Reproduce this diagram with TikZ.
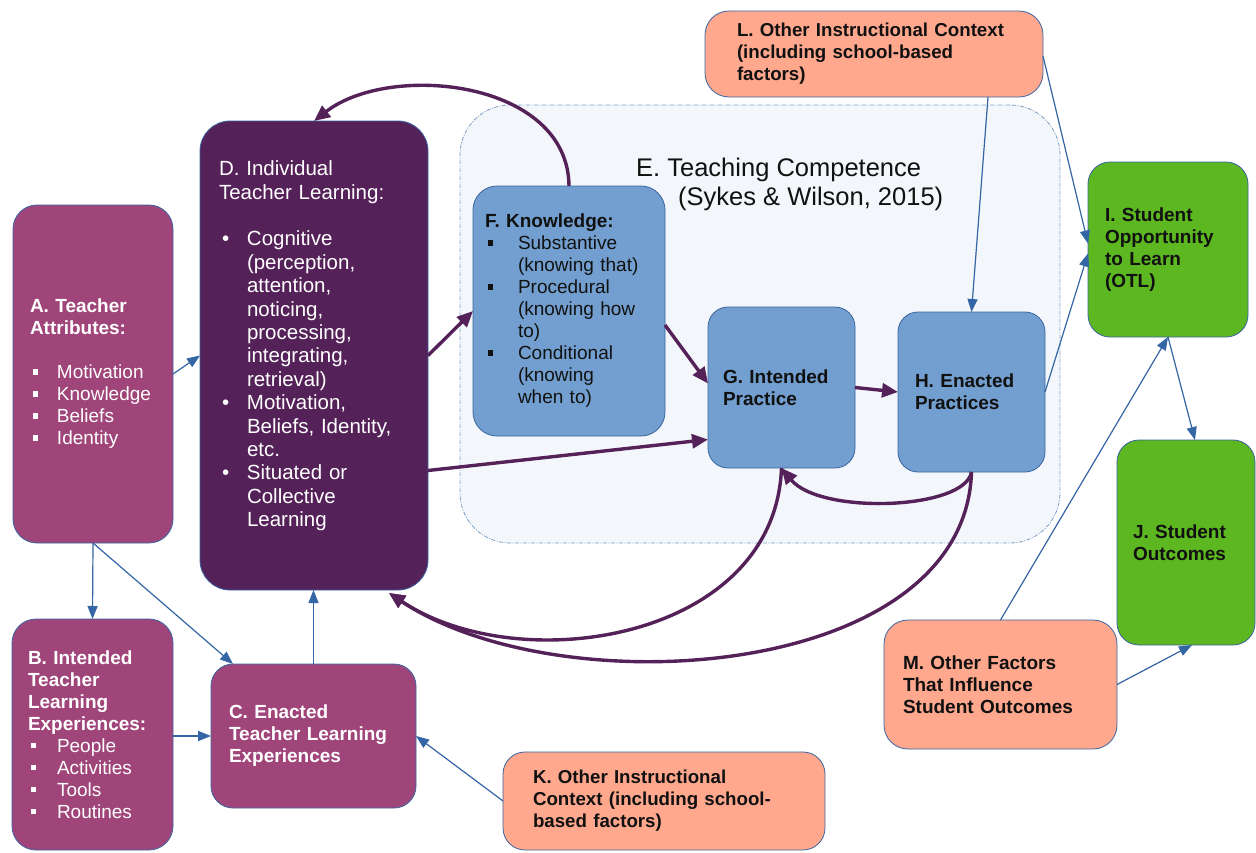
\documentclass[tikz,border=0pt]{standalone}
\usepackage{fontspec}
\setmainfont{Liberation Sans}
\usetikzlibrary{arrows.meta}
\hyphenpenalty=10000
\exhyphenpenalty=10000

\definecolor{apurple}{RGB}{160,69,122}
\definecolor{dpurple}{RGB}{85,33,89}
\definecolor{fblue}{RGB}{114,159,207}
\definecolor{efill}{RGB}{243,247,251}
\definecolor{eline}{RGB}{126,156,198}
\definecolor{sgreen}{RGB}{93,183,33}
\definecolor{salmon}{RGB}{255,168,142}
\definecolor{ablue}{RGB}{52,101,164}
\definecolor{boxline}{RGB}{58,100,160}
\definecolor{txtdark}{RGB}{17,17,17}

% list helpers: square bullet, round bullet, hanging indent
\newcommand{\sqbul}[1]{\makebox[#1][l]{\hspace{3pt}\raisebox{0.22em}{\rule{0.28em}{0.28em}}}}
\newcommand{\rdbul}[1]{\makebox[#1][l]{\hspace{3pt}\textbullet}}
\newcommand{\indsp}[1]{\makebox[#1]{}}

\tikzset{
  pbox/.style={draw=boxline, line width=0.8pt, anchor=north west,
    inner ysep=0pt, outer sep=0pt, align=left},
  normtxt/.style={font=\fontsize{19}{22}\selectfont},
  boldtxt/.style={font=\fontsize{19}{22}\selectfont\bfseries},
  ctxtxt/.style={font=\fontsize{18.7}{22}\selectfont\bfseries},
  barrow/.style={draw=ablue, line width=1.2pt, -{Triangle[length=13pt,width=10pt]}},
  parrow/.style={draw=dpurple, line width=3.4pt, -{Triangle[length=16pt,width=14pt]}},
}

\begin{document}
\begin{tikzpicture}[x=1pt, y=-1pt]
\fill[white] (0,0) rectangle (1256,852);
\useasboundingbox (0,0) rectangle (1256,852);

% E: teaching competence container
\node[draw=eline, fill=efill, line width=0.8pt,
  dash pattern=on 4pt off 1.5pt on 1pt off 1.5pt,
  rounded corners=50pt, anchor=north west, inner sep=0pt, outer sep=0pt,
  minimum width=600pt, minimum height=438pt] (E) at (460,105) {};
\node[anchor=base west, inner sep=0pt, text=txtdark,
  font=\fontsize{25.5}{29}\selectfont] (Etitle) at (636,176) {E. Teaching Competence};
\node[anchor=base west, inner sep=0pt, text=txtdark,
  font=\fontsize{25.5}{29}\selectfont] (Eref) at (678,205) {(Sykes \& Wilson, 2015)};

% A
\node[pbox, normtxt, fill=apurple, text=white, rounded corners=24pt,
  minimum width=160pt, minimum height=338pt, text width=126pt, inner xsep=17pt]
  (A) at (13,205)
  {{\bfseries A. Teacher\\Attributes:}\\[22pt]
   \sqbul{27pt}Motivation\\\sqbul{27pt}Knowledge\\\sqbul{27pt}Beliefs\\\sqbul{27pt}Identity};

% B
\node[pbox, normtxt, fill=apurple, text=white, rounded corners=24pt,
  minimum width=161pt, minimum height=231pt, text width=129pt, inner xsep=16pt]
  (B) at (12,619)
  {{\bfseries B. Intended\\Teacher\\Learning\\Experiences:}\\
   \sqbul{29pt}People\\\sqbul{29pt}Activities\\\sqbul{29pt}Tools\\\sqbul{29pt}Routines};

% C
\node[pbox, boldtxt, fill=apurple, text=white,
  rounded corners=22pt, minimum width=205pt, minimum height=144pt,
  text width=169pt, inner xsep=18pt]
  (C) at (211,664)
  {C. Enacted\\\mbox{Teacher Learning}\\Experiences};

% D
\node[pbox, font=\fontsize{20.5}{23.4}\selectfont, fill=dpurple, text=white,
  rounded corners=30pt, minimum width=228pt, minimum height=469pt,
  text width=190pt, inner xsep=19pt]
  (D) at (200,121)
  {D. Individual\\Teacher Learning:\\[23.4pt]
   \rdbul{28pt}Cognitive\\\indsp{28pt}(perception,\\\indsp{28pt}attention,\\
   \indsp{28pt}noticing,\\\indsp{28pt}processing,\\\indsp{28pt}integrating,\\
   \indsp{28pt}retrieval)\\
   \rdbul{28pt}Motivation,\\\indsp{28pt}Beliefs, Identity,\\\indsp{28pt}etc.\\
   \rdbul{28pt}Situated or\\\indsp{28pt}Collective\\\indsp{28pt}Learning\\ \mbox{}};

% F
\node[pbox, normtxt, fill=fblue, text=txtdark, rounded corners=24pt,
  minimum width=192pt, minimum height=250pt, text width=168pt, inner xsep=12pt]
  (F) at (473,186)
  {{\bfseries F. Knowledge:}\\
   \sqbul{33pt}Substantive\\\indsp{33pt}(knowing that)\\
   \sqbul{33pt}Procedural\\\indsp{33pt}(knowing how\\\indsp{33pt}to)\\
   \sqbul{33pt}Conditional\\\indsp{33pt}(knowing\\\indsp{33pt}when to)};

% G, H
\node[pbox, boldtxt, fill=fblue, text=txtdark, rounded corners=20pt,
  minimum width=147pt, minimum height=161pt, text width=117pt, inner xsep=15pt]
  (G) at (708,307) {G. Intended\\Practice};
\node[pbox, boldtxt, fill=fblue, text=txtdark, rounded corners=20pt,
  minimum width=147pt, minimum height=160pt, text width=113pt, inner xsep=17pt]
  (H) at (898,312) {H. Enacted\\Practices};

% I, J
\node[pbox, boldtxt, fill=sgreen, text=txtdark, rounded corners=22pt,
  minimum width=160pt, minimum height=175pt, text width=126pt, inner xsep=17pt]
  (I) at (1088,162) {I. Student\\Opportunity\\to Learn\\(OTL)};
\node[pbox, boldtxt, fill=sgreen, text=txtdark, rounded corners=22pt,
  minimum width=138pt, minimum height=205pt, text width=106pt, inner xsep=16pt]
  (J) at (1117,440) {J. Student\\Outcomes};

% K, L, M
\node[pbox, ctxtxt, fill=salmon, text=txtdark,
  rounded corners=22pt, minimum width=322pt, minimum height=98pt,
  text width=262pt, inner xsep=30pt]
  (K) at (503,752)
  {\mbox{K. Other Instructional}\\\mbox{Context (including school-}\\\mbox{based factors)}};
\node[pbox, ctxtxt, fill=salmon, text=txtdark,
  rounded corners=24pt, minimum width=338pt, minimum height=86pt,
  text width=274pt, inner xsep=32pt]
  (L) at (705,11)
  {\mbox{L. Other Instructional Context}\\\mbox{(including school-based}\\\mbox{factors)}};
\node[pbox, boldtxt, fill=salmon, text=txtdark, rounded corners=24pt,
  minimum width=233pt, minimum height=129pt, text width=195pt, inner xsep=19pt]
  (M) at (884,620) {M. Other Factors\\That Influence\\Student Outcomes};

% thin blue influences
\draw[barrow] (A.east) -- (D.west);
\draw[barrow] (A.south) -- (B.north);
\draw[barrow] (A.south) -- ([xshift=22pt]C.north west);
\draw[barrow] (B.east |- C.west) -- (C.west);
\draw[barrow] (C.north) -- (C.north |- D.south);
\draw[barrow] (K.west) -- (C.east);
\draw[barrow] ([xshift=-55pt]L.south east) -- (H.north);
\draw[barrow] ([yshift=-2pt]L.east) -- ([yshift=6pt]I.west);
\draw[barrow] (H.east) -- ([yshift=-4pt]I.west);
\draw[barrow] (M.north) -- (I.south);
\draw[barrow] (I.south) -- ([xshift=9pt]J.north);
\draw[barrow] (M.east) -- ([xshift=6pt]J.south);

% thick purple learning loop
\draw[parrow] (D.east) -- (F.west);
\draw[parrow] ([yshift=-14pt]F.east) -- ([yshift=4pt]G.west);
\draw[parrow] ([yshift=-115pt]D.east) -- ([yshift=-52pt]G.west);
\draw[parrow] (G.east) -- (H.west);
\draw[parrow] (F.north) .. controls (568,80) and (390,62) .. (D.north);
\draw[parrow] (H.south) .. controls (965,510) and (820,515) .. (G.south);
\draw[parrow] (G.south) .. controls (775,640) and (520,680) .. ([xshift=-39pt,yshift=-3pt]D.south east);
\draw[parrow] (H.south) .. controls (965,680) and (560,707) .. ([xshift=-39pt,yshift=-3pt]D.south east);
\end{tikzpicture}
\end{document}
